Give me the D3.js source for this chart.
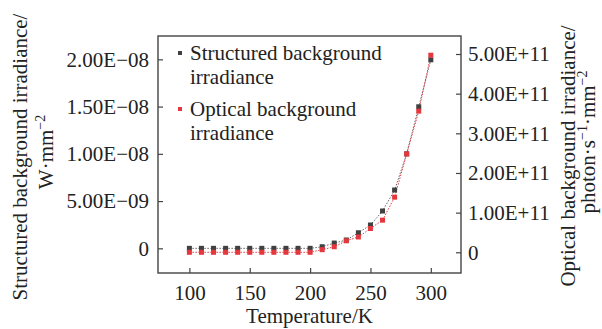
<!DOCTYPE html>
<html>
<head>
<meta charset="utf-8">
<script src="https://cdn.jsdelivr.net/npm/d3@7"></script>
<style>
  body { margin: 0; background: #fff; }
  svg { display: block; }
  text { font-family: "Liberation Serif", "Times New Roman", serif; fill: #222; }
</style>
</head>
<body>
<div class="chart"></div>
<script>
// data
const temperatures = [100, 110, 120, 130, 140, 150, 160, 170, 180, 190, 200, 210, 220, 230, 240, 250, 260, 270, 280, 290, 300];
const structured = [0, 0, 0, 0, 0, 0, 0, 0, 0, 0, 0, 1.7e-10, 5.6e-10, 8.8e-10, 1.65e-9, 2.47e-9, 3.95e-9, 6.17e-9, 1.0e-8, 1.498e-8, 1.995e-8];
const optical = [0, 0, 0, 0, 0, 0, 0, 0, 0, 0, 0, 0.066e11, 0.14e11, 0.29e11, 0.386e11, 0.6e11, 0.81e11, 1.39e11, 2.48e11, 3.56e11, 4.97e11];
const xTicks = [100, 150, 200, 250, 300];
const leftTicks = [0, 5e-9, 1e-8, 1.5e-8, 2e-8];
const leftTickLabels = ['0', '5.00E\u221209', '1.00E\u221208', '1.50E\u221208', '2.00E\u221208'];
const rightTicks = [0, 1e11, 2e11, 3e11, 4e11, 5e11];
const rightTickLabels = ['0', '1.00E+11', '2.00E+11', '3.00E+11', '4.00E+11', '5.00E+11'];

const WIDTH = 602, HEIGHT = 329;
const MARGINS = {top: 36, right: 141, bottom: 56, left: 158};
const FONT = 21;
const axisColor = '#444';
const blackColor = '#404040';
const redColor = '#e5383e';

const svg = d3.select('.chart')
  .append('svg')
  .attr('width', WIDTH)
  .attr('height', HEIGHT);

const x = d3.scaleLinear()
  .domain([74, 325])
  .range([MARGINS.left, WIDTH - MARGINS.right]);
const yLeft = d3.scaleLinear()
  .domain([-2.61e-9, 2.247e-8])
  .range([HEIGHT - MARGINS.bottom, MARGINS.top]);
const yRight = d3.scaleLinear()
  .domain([-0.522e11, 5.454e11])
  .range([HEIGHT - MARGINS.bottom, MARGINS.top]);

const x0 = MARGINS.left, x1 = WIDTH - MARGINS.right;
const y0 = HEIGHT - MARGINS.bottom, y1 = MARGINS.top;

// axes (ticks pointing inward)
const xAxis = d3.axisBottom(x).tickValues(xTicks).tickFormat(d3.format('d')).tickSizeInner(-5).tickSizeOuter(0).tickPadding(10);
const leftAxis = d3.axisLeft(yLeft).tickValues(leftTicks).tickFormat((d, i) => leftTickLabels[i]).tickSizeInner(-5).tickSizeOuter(0).tickPadding(9);
const rightAxis = d3.axisRight(yRight).tickValues(rightTicks).tickFormat((d, i) => rightTickLabels[i]).tickSizeInner(-5).tickSizeOuter(0).tickPadding(7);

const gx = svg.append('g').attr('transform', 'translate(0,' + y0 + ')').call(xAxis);
const gl = svg.append('g').attr('transform', 'translate(' + x0 + ',0)').call(leftAxis);
const gr = svg.append('g').attr('transform', 'translate(' + x1 + ',0)').call(rightAxis);

[gx, gl, gr].forEach(g => {
  g.selectAll('path').style('display', 'none');
  g.selectAll('line').attr('stroke', axisColor).attr('stroke-width', 1.2);
  g.selectAll('text')
    .style('font-family', '"Liberation Serif", "Times New Roman", serif')
    .style('font-size', FONT + 'px')
    .attr('fill', '#222');
});
gx.selectAll('.tick text').attr('dy', '0.71em').attr('y', 12);

// frame: left, bottom, right, top
svg.append('rect')
  .attr('x', x0).attr('y', y1)
  .attr('width', x1 - x0).attr('height', y0 - y1)
  .attr('fill', 'none')
  .attr('stroke', axisColor)
  .attr('stroke-width', 1.4);

// lines
const lineLeft = d3.line().x((d, i) => x(temperatures[i])).y(d => yLeft(d));
const lineRight = d3.line().x((d, i) => x(temperatures[i])).y(d => yRight(d));

svg.append('path')
  .attr('d', lineLeft(structured))
  .attr('fill', 'none')
  .attr('stroke', '#666')
  .attr('stroke-width', 1)
  .attr('stroke-dasharray', '1.5,1.5');
svg.append('path')
  .attr('d', lineRight(optical))
  .attr('fill', 'none')
  .attr('stroke', redColor)
  .attr('stroke-width', 1)
  .attr('stroke-dasharray', '1.5,1.5');

// markers
const S = 5;
svg.selectAll('.sq-black')
  .data(structured)
  .enter()
  .append('rect')
  .attr('class', 'sq-black')
  .attr('x', (d, i) => x(temperatures[i]) - S / 2)
  .attr('y', d => yLeft(d) - S / 2)
  .attr('width', S).attr('height', S)
  .attr('fill', blackColor);
svg.selectAll('.sq-red')
  .data(optical)
  .enter()
  .append('rect')
  .attr('class', 'sq-red')
  .attr('x', (d, i) => x(temperatures[i]) - S / 2)
  .attr('y', d => yRight(d) - S / 2)
  .attr('width', S).attr('height', S)
  .attr('fill', redColor);

// legend
const legend = [
  {color: blackColor, lines: ['Structured background', 'irradiance'], y: 60},
  {color: redColor, lines: ['Optical background', 'irradiance'], y: 116}
];
legend.forEach(l => {
  svg.append('rect')
    .attr('x', 178).attr('y', l.y - 9)
    .attr('width', 4).attr('height', 4)
    .attr('fill', l.color);
  l.lines.forEach((t, i) => {
    svg.append('text')
      .attr('x', 190).attr('y', l.y + i * 23.5)
      .style('font-size', FONT + 'px')
      .text(t);
  });
});

// axis titles
svg.append('text')
  .attr('x', (x0 + x1) / 2).attr('y', 323)
  .attr('text-anchor', 'middle')
  .style('font-size', FONT + 'px')
  .text('Temperature/K');

function sup(sel, base, s) {
  sel.append('tspan').text(base);
  sel.append('tspan').attr('dy', -8).style('font-size', '14px').text(s);
  return sel;
}

svg.append('text')
  .attr('transform', 'translate(27,157) rotate(-90)')
  .attr('text-anchor', 'middle')
  .style('font-size', FONT + 'px')
  .text('Structured background irradiance/');
const lt2 = svg.append('text')
  .attr('transform', 'translate(53,152) rotate(-90)')
  .attr('text-anchor', 'middle')
  .style('font-size', FONT + 'px');
sup(lt2, 'W\u00b7mm', '\u22122');

svg.append('text')
  .attr('transform', 'translate(575,156) rotate(-90)')
  .attr('text-anchor', 'middle')
  .style('font-size', FONT + 'px')
  .text('Optical background irradiance/');
const rt2 = svg.append('text')
  .attr('transform', 'translate(595,142) rotate(-90)')
  .attr('text-anchor', 'middle')
  .style('font-size', FONT + 'px');
rt2.append('tspan').text('photon\u00b7s');
rt2.append('tspan').attr('dy', -8).style('font-size', '14px').text('\u22121');
rt2.append('tspan').attr('dy', 8).text('\u00b7mm');
rt2.append('tspan').attr('dy', -8).style('font-size', '14px').text('\u22122');
</script>
</body>
</html>
